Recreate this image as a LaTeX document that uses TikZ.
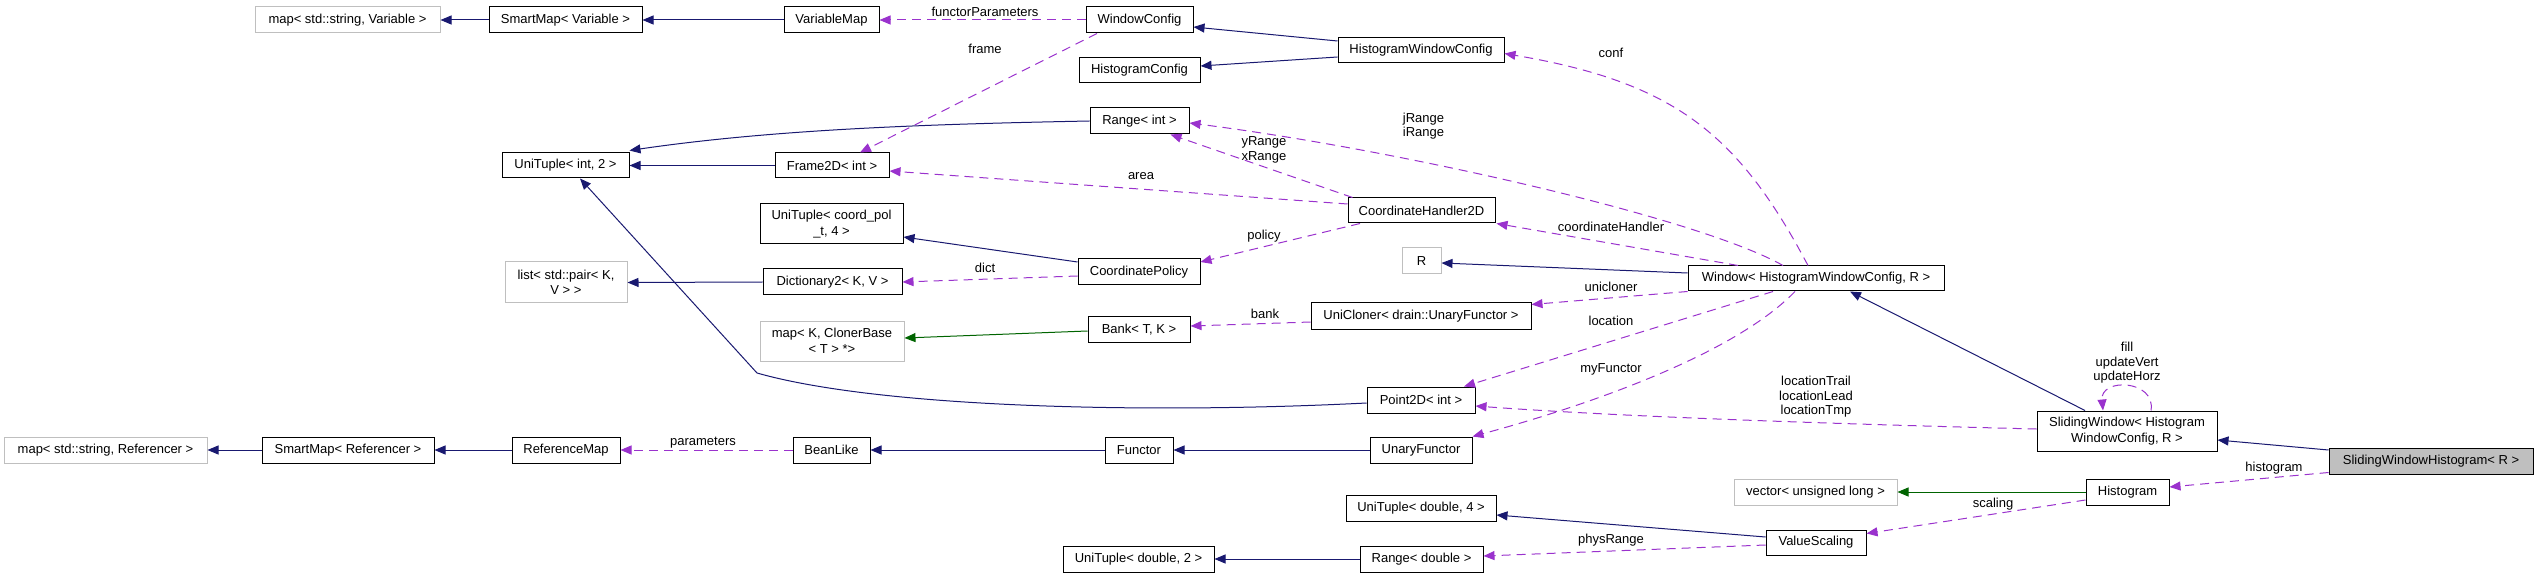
\documentclass[tikz,border=0pt]{standalone}
\usepackage{fontspec}
\setmainfont{Liberation Sans}
\usepackage{tikz}
\usetikzlibrary{arrows.meta,positioning}
\usepackage{xcolor}
\definecolor{inhcol}{HTML}{191970}
\definecolor{tplcol}{HTML}{006400}
\definecolor{usecol}{HTML}{9A32CD}
\definecolor{extcol}{HTML}{BFBFBF}

\begin{document}
\begin{tikzpicture}[x=1pt, y=-1pt,
    box/.style={draw=black, line width=1pt, fill=white, inner sep=0pt, align=center, font=\fontsize{13}{15.5}\selectfont},
    extbox/.style={box, draw=extcol},
    mainbox/.style={box, fill=extcol},
    lbl/.style={inner sep=0pt, align=center, font=\fontsize{13}{14.5}\selectfont},
    inh/.style={color=inhcol, line width=1pt, -{Triangle[length=11pt,width=9pt]}},
    tpl/.style={inh, color=tplcol},
    use/.style={inh, color=usecol, dash pattern=on 9pt off 6pt}]
    \useasboundingbox (0,0) rectangle (2535,577);

    % Classes
    \node[extbox, minimum width=185pt, minimum height=26pt] (mapvar) at (347.5,20) {map< std::string, Variable >};
    \node[box, minimum width=153pt, minimum height=26pt] (smartvar) at (565.5,20) {SmartMap< Variable >};
    \node[box, minimum width=95pt, minimum height=26pt] (varmap) at (831.5,20) {VariableMap};
    \node[box, minimum width=107pt, minimum height=26pt] (winconf) at (1139.5,20) {WindowConfig};
    \node[box, minimum width=121pt, minimum height=25pt] (histconf) at (1139.5,70.5) {HistogramConfig};
    \node[box, minimum width=166pt, minimum height=25pt] (histwinconf) at (1421,50.5) {HistogramWindowConfig};
    \node[box, minimum width=127pt, minimum height=25pt] (tupleint) at (565.5,165.5) {UniTuple< int, 2 >};
    \node[box, minimum width=114pt, minimum height=25pt] (frame) at (832,165.5) {Frame2D< int >};
    \node[box, minimum width=99pt, minimum height=26pt] (rangeint) at (1139.5,121) {Range< int >};
    \node[box, minimum width=147pt, minimum height=25pt] (coordhandler) at (1421.5,210.5) {CoordinateHandler2D};
    \node[box, minimum width=143pt, minimum height=40pt] (tuplecoord) at (831.5,224) {UniTuple< coord\_pol\\\_t, 4 >};
    \node[extbox, minimum width=122pt, minimum height=41pt] (listpair) at (566,282.5) {list< std::pair< K,\\V > >};
    \node[box, minimum width=139pt, minimum height=26pt] (dict) at (832.5,282) {Dictionary2< K, V >};
    \node[box, minimum width=122pt, minimum height=26pt] (policy) at (1139,272) {CoordinatePolicy};
    \node[extbox, minimum width=39pt, minimum height=26pt] (rparam) at (1421.5,261) {R};
    \node[box, minimum width=256pt, minimum height=25pt] (window) at (1816,278.5) {Window< HistogramWindowConfig, R >};
    \node[extbox, minimum width=144pt, minimum height=40pt] (mapcloner) at (832,341) {map< K, ClonerBase\\< T > *>};
    \node[box, minimum width=102pt, minimum height=25pt] (bank) at (1139,329.5) {Bank< T, K >};
    \node[box, minimum width=220pt, minimum height=26pt] (unicloner) at (1421,316) {UniCloner< drain::UnaryFunctor >};
    \node[box, minimum width=108pt, minimum height=26pt] (point) at (1421,400) {Point2D< int >};
    \node[box, minimum width=180pt, minimum height=40pt] (sliding) at (2127,431) {SlidingWindow< Histogram\\WindowConfig, R >};
    \node[extbox, minimum width=203pt, minimum height=26pt] (mapref) at (105.5,450) {map< std::string, Referencer >};
    \node[box, minimum width=172pt, minimum height=26pt] (smartref) at (348,450) {SmartMap< Referencer >};
    \node[box, minimum width=108pt, minimum height=26pt] (refmap) at (566,450) {ReferenceMap};
    \node[box, minimum width=77pt, minimum height=26pt] (bean) at (831.5,450) {BeanLike};
    \node[box, minimum width=68pt, minimum height=26pt] (functor) at (1139,450) {Functor};
    \node[box, minimum width=102pt, minimum height=26pt] (unary) at (1421,450) {UnaryFunctor};
    \node[mainbox, minimum width=204pt, minimum height=26pt] (swhist) at (2431,461) {SlidingWindowHistogram< R >};
    \node[extbox, minimum width=163pt, minimum height=26pt] (vector) at (1815.5,492) {vector< unsigned long >};
    \node[box, minimum width=83pt, minimum height=26pt] (histogram) at (2127.5,492) {Histogram};
    \node[box, minimum width=150pt, minimum height=26pt] (tupledbl4) at (1421,508) {UniTuple< double, 4 >};
    \node[box, minimum width=100pt, minimum height=25pt] (scaling) at (1816,542.5) {ValueScaling};
    \node[box, minimum width=151pt, minimum height=26pt] (tupledbl2) at (1138.5,559) {UniTuple< double, 2 >};
    \node[box, minimum width=123pt, minimum height=26pt] (rangedbl) at (1421.5,559) {Range< double >};

    % Inheritance
    \draw[inh] (smartvar.west) -- (mapvar.east);
    \draw[inh] (varmap.west) -- (smartvar.east);
    \draw[inh] ([yshift=9.5pt]histwinconf.west) -- ([yshift=-7pt]winconf.east);
    \draw[inh] ([yshift=-6.5pt]histwinconf.west) -- ([yshift=4.5pt]histconf.east);
    \draw[inh] (rangeint.west) .. controls +(-150,3) and +(150,-22) .. ([yshift=2pt]tupleint.north east);
    \draw[inh] (frame.west) -- (tupleint.east);
    \draw[inh] ([yshift=10pt]policy.west) -- ([yshift=-13pt]tuplecoord.east);
    \draw[inh] (dict.west) -- (listpair.east);
    \coordinate (pointbend) at (757,373);
    \draw[inh] ([yshift=-3pt]point.west) .. controls +(-217,11) and +(123,35) .. (pointbend) -- ([xshift=14.5pt]tupleint.south);
    \draw[inh] ([yshift=5.5pt]window.west) -- ([yshift=-2pt]rparam.east);
    \draw[inh] ([xshift=-42pt]sliding.north) -- ([xshift=34pt]window.south);
    \draw[inh] ([yshift=11pt]swhist.west) -- ([yshift=-9pt]sliding.east);
    \draw[inh] (smartref.west) -- (mapref.east);
    \draw[inh] (refmap.west) -- (smartref.east);
    \draw[inh] (functor.west) -- (bean.east);
    \draw[inh] (unary.west) -- (functor.east);
    \draw[inh] ([yshift=5.5pt]scaling.west) -- ([yshift=-7pt]tupledbl4.east);
    \draw[inh] (rangedbl.west) -- (tupledbl2.east);

    % Template instances
    \draw[tpl] ([yshift=-1.5pt]bank.west) -- ([yshift=3pt]mapcloner.east);
    \draw[tpl] (histogram.west) -- (vector.east);

    % Usage
    \draw[use] (winconf.west) -- (varmap.east);
    \node[lbl] (lblfunctorpar) at (985,12) {functorParameters};
    \draw[use] ([xshift=-42.5pt]winconf.south) -- ([xshift=28pt]frame.north);
    \node[lbl] (lblframe) at (985,49) {frame};
    \draw[use] ([xshift=-8pt]window.north) .. controls +(-70,-132) and +(170,29) .. ([yshift=-3pt]histwinconf.east);
    \node[lbl] (lblconf) at (1611,53) {conf};
    \draw[use] ([xshift=-33pt]window.north) .. controls +(-83,-47) and +(212,27) .. ([yshift=-2pt]rangeint.east);
    \node[lbl] (lblrangeij) at (1423.5,126) {jRange\\iRange};
    \draw[use] ([xshift=5pt]coordhandler.north west) -- ([xshift=31pt]rangeint.south);
    \node[lbl] (lblrangexy) at (1264,150) {yRange\\xRange};
    \draw[use] ([yshift=6.5pt]coordhandler.west) -- ([yshift=-5.5pt]frame.east);
    \node[lbl] (lblarea) at (1141,176) {area};
    \draw[use] ([xshift=-78pt]window.north) -- ([xshift=1pt]coordhandler.south east);
    \node[lbl] (lblcoordh) at (1611,227) {coordinateHandler};
    \draw[use] ([xshift=-61.5pt]coordhandler.south) -- ([yshift=10pt]policy.east);
    \node[lbl] (lblpolicy) at (1264,236) {policy};
    \draw[use] ([yshift=-4pt]policy.west) -- (dict.east);
    \node[lbl] (lbldict) at (985,268) {dict};
    \draw[use] (window.south west) -- ([yshift=-2pt]unicloner.north east);
    \node[lbl] (lblunicloner) at (1611,287) {unicloner};
    \draw[use] ([yshift=-6pt]unicloner.west) -- ([yshift=3.5pt]bank.east);
    \node[lbl] (lblbank) at (1265,314) {bank};
    \draw[use] ([xshift=-43pt]window.south) -- ([xshift=43pt]point.north);
    \node[lbl] (lbllocation) at (1611,321) {location};
    \draw[use] ([xshift=-21pt]window.south) .. controls +(-65,67) and +(100,-27) .. (unary.north east);
    \node[lbl] (lblmyfunctor) at (1611,369) {myFunctor};
    \draw[use] ([yshift=2pt]sliding.west) .. controls +(-200,-5) and +(150,11) .. ([yshift=-6pt]point.east);
    \node[lbl] (lbllocations) at (1816,397) {locationTrail\\locationLead\\locationTmp};
    \draw[use] ([xshift=24pt]sliding.north) .. controls +(5,-31) and +(-3,-33) .. ([xshift=-24pt]sliding.north);
    \node[lbl] (lblfill) at (2127,363) {fill\\updateVert\\updateHorz};
    \draw[use] ([yshift=2pt]swhist.south west) -- ([yshift=5pt]histogram.east);
    \node[lbl] (lblhistogram) at (2274,468) {histogram};
    \draw[use] ([yshift=-8pt]histogram.west) -- ([yshift=-4pt]scaling.north east);
    \node[lbl] (lblscaling) at (1993,504) {scaling};
    \draw[use] ([yshift=-2.5pt]scaling.west) -- ([yshift=3pt]rangedbl.east);
    \node[lbl] (lblphysrange) at (1611,540) {physRange};
    \draw[use] (bean.west) -- (refmap.east);
    \node[lbl] (lblparameters) at (703,443) {parameters};
\end{tikzpicture}
\end{document}
